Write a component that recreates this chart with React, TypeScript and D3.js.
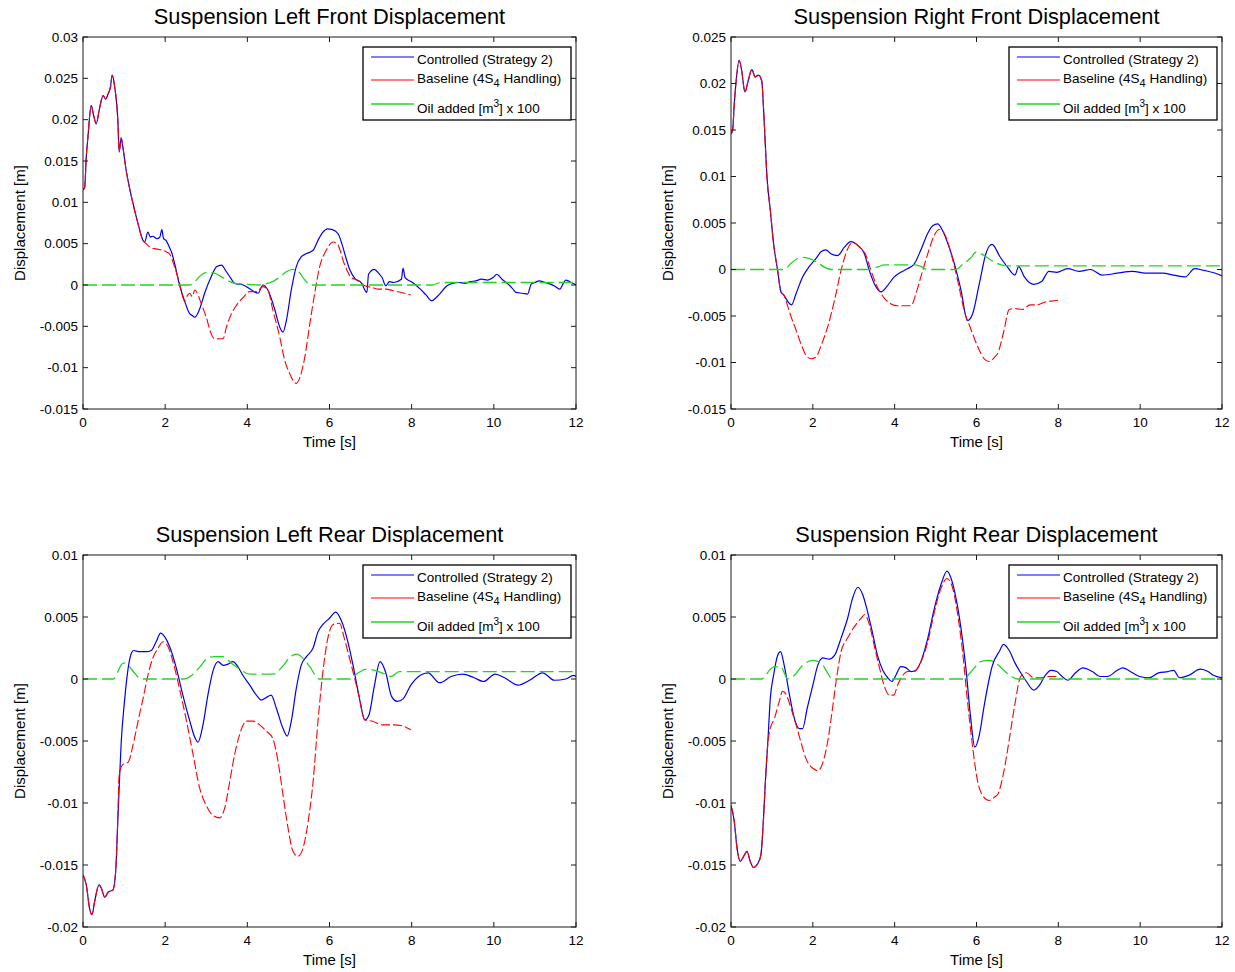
import React from 'react';
import * as d3 from 'd3';

type P = [number, number];

// ---------- tick labels ----------
const timeTicks = [0, 2, 4, 6, 8, 10, 12];
const lfTicks = [0.03, 0.025, 0.02, 0.015, 0.01, 0.005, 0, -0.005, -0.01, -0.015];
const rfTicks = [0.025, 0.02, 0.015, 0.01, 0.005, 0, -0.005, -0.01, -0.015];
const rearTicks = [0.01, 0.005, 0, -0.005, -0.01, -0.015, -0.02];

// ---------- Left Front ----------
const lfShared: P[] = [
  [0, 0.0115], [0.04, 0.0118], [0.08, 0.0155], [0.12, 0.0179], [0.2, 0.0217], [0.26, 0.0205], [0.32, 0.0195],
  [0.4, 0.0213], [0.49, 0.0229], [0.55, 0.0225], [0.61, 0.0231], [0.67, 0.024], [0.71, 0.0254], [0.77, 0.024],
  [0.85, 0.0197], [0.88, 0.0161], [0.93, 0.0178], [0.97, 0.0167], [1.05, 0.0139], [1.13, 0.0118], [1.22, 0.0098],
  [1.34, 0.0074], [1.46, 0.0054],
];
const lfControlled: P[] = [
  ...lfShared,
  [1.5, 0.0052], [1.58, 0.0064], [1.64, 0.0058], [1.7, 0.0059], [1.8, 0.0056], [1.87, 0.0058], [1.92, 0.0067],
  [1.96, 0.0056], [2.02, 0.0054], [2.1, 0.0046], [2.16, 0.0039], [2.23, 0.0026], [2.35, 0], [2.47, -0.0019],
  [2.6, -0.0035], [2.66, -0.0037], [2.72, -0.0039], [2.84, -0.0029], [2.96, -0.001], [3.12, 0.001], [3.25, 0.0022],
  [3.37, 0.0024], [3.49, 0.0016], [3.6, 0.0008], [3.69, 0.0002], [3.9, 0], [4.1, -0.0006], [4.26, -0.001],
  [4.38, 0], [4.5, -0.0006], [4.67, -0.003], [4.79, -0.0051], [4.87, -0.0057], [4.95, -0.0043], [5.07, -0.0006],
  [5.19, 0.0022], [5.31, 0.0034], [5.44, 0.0038], [5.6, 0.0042], [5.72, 0.0054], [5.84, 0.0064], [5.95, 0.0068],
  [6.07, 0.0067], [6.21, 0.0062], [6.3, 0.005], [6.4, 0.0033], [6.49, 0.0019], [6.63, 0.0007], [6.77, 0.0003],
  [6.91, -0.0009], [6.95, 0.0013], [7.09, 0.0019], [7.2, 0.0014], [7.28, 0.0009], [7.37, -0.0001], [7.46, 0.0004],
  [7.56, 0.0003], [7.75, 0.0007], [7.79, 0.002], [7.84, 0.0009], [8.02, 0.0003], [8.21, -0.0005], [8.35, -0.0012],
  [8.49, -0.0019], [8.58, -0.0016], [8.68, -0.0011], [8.86, -0.0001], [9.0, 0.0002], [9.14, 0.0003], [9.3, 0.0002],
  [9.42, 0.0004], [9.56, 0.0005], [9.7, 0.0007], [9.85, 0.0006], [9.98, 0.0009], [10.07, 0.0013], [10.2, 0.0007],
  [10.35, 0.0001], [10.45, -0.0004], [10.54, -0.0009], [10.7, -0.001], [10.82, -0.0011], [10.91, 0.0001],
  [11.0, 0.0003], [11.1, 0.0005], [11.25, 0.0003], [11.38, 0.0001], [11.5, -0.0002], [11.61, -0.0005],
  [11.68, 0.0001], [11.75, 0.0006], [11.85, 0.0004], [12, 0],
];
const lfBaseline: P[] = [
  ...lfShared,
  [1.54, 0.005], [1.65, 0.0045], [1.74, 0.0044], [1.85, 0.0043], [1.95, 0.0042], [2.03, 0.004], [2.1, 0.0038],
  [2.23, 0.0022], [2.35, 0.0002], [2.47, -0.0019], [2.55, -0.0012], [2.6, -0.001], [2.66, -0.0014], [2.72, -0.0006],
  [2.8, -0.0012], [2.88, -0.0023], [3.0, -0.0039], [3.12, -0.0059], [3.2, -0.0065], [3.33, -0.0065], [3.41, -0.0065],
  [3.49, -0.0051], [3.61, -0.0035], [3.73, -0.0025], [3.9, -0.0015], [4.06, -0.0008], [4.22, -0.0008],
  [4.38, -0.0002], [4.5, -0.0006], [4.62, -0.003], [4.79, -0.0063], [4.91, -0.0091], [5.03, -0.0107],
  [5.19, -0.0119], [5.31, -0.0107], [5.4, -0.0087], [5.52, -0.0047], [5.64, -0.001], [5.76, 0.0022],
  [5.92, 0.0042], [6.09, 0.0052], [6.2, 0.0049], [6.35, 0.0027], [6.53, 0.0009], [6.72, 0.0005], [6.86, -0.0001],
  [7.04, -0.0003], [7.19, -0.0005], [7.37, -0.0005], [7.56, -0.0007], [7.75, -0.0009], [7.98, -0.0012],
];
const lfOil: P[] = [
  [0, 0], [2.6, 0], [2.72, 0.0004], [2.85, 0.0011], [3.0, 0.0015], [3.15, 0.0015], [3.3, 0.0012], [3.5, 0.0006],
  [3.7, 0.0002], [3.9, 0.0001], [4.3, 0], [4.5, 0.0002], [4.65, 0.0005], [4.8, 0.001], [4.95, 0.0016],
  [5.1, 0.0019], [5.25, 0.0016], [5.4, 0.0006], [5.55, 0], [8.5, 0], [8.7, 0.0003], [12, 0.0003],
];

// ---------- Right Front ----------
const rfShared: P[] = [
  [0, 0.0146], [0.04, 0.015], [0.08, 0.0178], [0.12, 0.02], [0.2, 0.0225], [0.26, 0.0214], [0.34, 0.0191],
  [0.42, 0.0203], [0.51, 0.0215], [0.59, 0.0207], [0.67, 0.0209], [0.75, 0.0203], [0.81, 0.016], [0.88, 0.0099],
  [0.96, 0.0064], [1.04, 0.0028], [1.14, -0.0001], [1.22, -0.0024], [1.3, -0.0028],
];
const rfControlled: P[] = [
  ...rfShared,
  [1.4, -0.0035], [1.48, -0.0038], [1.59, -0.0026], [1.75, -0.0008], [1.91, 0.0003], [2.08, 0.0012], [2.2, 0.0019],
  [2.32, 0.0021], [2.44, 0.0017], [2.61, 0.0015], [2.77, 0.0024], [2.93, 0.003], [3.1, 0.0026], [3.26, 0.0017],
  [3.38, -0.0001], [3.5, -0.0015], [3.67, -0.0024], [3.83, -0.0017], [3.99, -0.0008], [4.15, -0.0003],
  [4.32, 0.0001], [4.48, 0.0006], [4.64, 0.0021], [4.81, 0.0039], [4.93, 0.0047], [5.05, 0.0049], [5.17, 0.0042],
  [5.3, 0.0028], [5.46, 0.0006], [5.62, -0.0022], [5.78, -0.0055], [5.91, -0.0047], [6.07, -0.0015],
  [6.23, 0.0017], [6.31, 0.0025], [6.38, 0.0027], [6.57, 0.0014], [6.75, 0.0003], [6.94, -0.0006], [7.03, 0.0003],
  [7.17, -0.0008], [7.4, -0.0016], [7.59, -0.0013], [7.77, -0.0002], [7.96, -0.0003], [8.23, 0.0001],
  [8.51, -0.0002], [8.79, 0], [9.07, -0.0006], [9.44, -0.0004], [9.81, -0.0002], [10.18, -0.0004],
  [10.55, -0.0004], [10.82, -0.0006], [11.1, -0.0008], [11.33, 0.0001], [11.56, -0.0001], [11.84, -0.0004],
  [12, -0.0007],
];
const rfBaseline: P[] = [
  ...rfShared,
  [1.34, -0.0033], [1.47, -0.0051], [1.59, -0.0065], [1.71, -0.008], [1.83, -0.0092], [1.96, -0.0096],
  [2.08, -0.0094], [2.2, -0.0082], [2.36, -0.0062], [2.53, -0.0033], [2.69, -0.0001], [2.85, 0.0022],
  [2.97, 0.0029], [3.14, 0.0024], [3.3, 0.0015], [3.42, -0.0001], [3.58, -0.0019], [3.75, -0.0031],
  [3.91, -0.0037], [4.07, -0.0039], [4.24, -0.0039], [4.4, -0.0039], [4.52, -0.0026], [4.64, -0.0008],
  [4.81, 0.0017], [4.97, 0.0037], [5.09, 0.0043], [5.21, 0.0039], [5.38, 0.0017], [5.54, -0.0012],
  [5.7, -0.0044], [5.87, -0.0065], [6.03, -0.0083], [6.19, -0.0096], [6.31, -0.0099], [6.45, -0.0094],
  [6.52, -0.009], [6.66, -0.0068], [6.8, -0.0043], [6.94, -0.0042], [7.12, -0.0043], [7.31, -0.0038],
  [7.49, -0.0038], [7.68, -0.0035], [7.82, -0.0034], [8.0, -0.0033],
];
const rfOil: P[] = [
  [0, 0], [1.3, 0], [1.45, 0.0006], [1.6, 0.0011], [1.75, 0.0013], [1.9, 0.0012], [2.1, 0.0008], [2.3, 0.0002],
  [2.45, 0], [3.4, 0], [3.6, 0.0003], [3.75, 0.0005], [4.5, 0.0005], [4.65, 0.0003], [4.8, 0], [5.5, 0],
  [5.65, 0.0005], [5.85, 0.0012], [6.0, 0.0019], [6.15, 0.0016], [6.4, 0.0009], [6.6, 0.0005], [6.8, 0.0004],
  [12, 0.0004],
];

// ---------- Left Rear ----------
const lrShared: P[] = [
  [0, -0.0158], [0.08, -0.0166], [0.16, -0.0185], [0.22, -0.019], [0.28, -0.018], [0.39, -0.0166],
  [0.45, -0.0169], [0.53, -0.0176], [0.61, -0.0172], [0.73, -0.017], [0.8, -0.0153], [0.84, -0.012],
];
const lrControlled: P[] = [
  ...lrShared,
  [0.88, -0.0088], [0.93, -0.0051], [1.01, -0.0018], [1.1, 0.0009], [1.18, 0.0021], [1.23, 0.0023],
  [1.38, 0.0022], [1.54, 0.0022], [1.66, 0.0023], [1.78, 0.003], [1.89, 0.0037], [1.99, 0.0034], [2.11, 0.0026],
  [2.27, 0.0009], [2.43, -0.0013], [2.6, -0.0034], [2.72, -0.0047], [2.8, -0.0051], [2.92, -0.0037],
  [3.04, -0.0013], [3.16, 0.0006], [3.29, 0.0014], [3.41, 0.0011], [3.53, 0.0012], [3.65, 0.0014], [3.77, 0.001],
  [3.89, 0.0003], [4.06, -0.0005], [4.22, -0.0013], [4.34, -0.0017], [4.46, -0.0015], [4.58, -0.0013],
  [4.71, -0.0024], [4.87, -0.004], [4.97, -0.0046], [5.07, -0.0034], [5.19, -0.0008], [5.31, 0.0011],
  [5.44, 0.0018], [5.6, 0.0025], [5.72, 0.0038], [5.84, 0.0044], [6.0, 0.0049], [6.15, 0.0054], [6.29, 0.0047],
  [6.44, 0.0031], [6.58, 0.001], [6.72, -0.0014], [6.86, -0.0033], [6.96, -0.0029], [7.09, -0.0006],
  [7.23, 0.0014], [7.37, 0.0005], [7.51, -0.0014], [7.65, -0.0018], [7.79, -0.0016], [7.98, -0.0005],
  [8.21, 0.0003], [8.4, 0.0005], [8.68, -0.0003], [8.96, 0.0002], [9.24, 0.0004], [9.52, 0.0001],
  [9.75, -0.0002], [10.03, 0.0004], [10.26, 0.0001], [10.59, -0.0005], [10.87, -0.0001], [11.19, 0.0005],
  [11.47, -0.0001], [11.75, 0], [11.94, 0.0003], [12, 0.0002],
];
const lrBaseline: P[] = [
  ...lrShared,
  [0.88, -0.0078], [0.93, -0.0071], [0.97, -0.0069], [1.1, -0.0067], [1.22, -0.0053], [1.34, -0.0034],
  [1.46, -0.0016], [1.58, 0.0003], [1.7, 0.0017], [1.83, 0.0025], [1.95, 0.003], [2.07, 0.0026], [2.19, 0.0014],
  [2.35, -0.0008], [2.52, -0.0034], [2.68, -0.0061], [2.84, -0.0088], [3.0, -0.0102], [3.16, -0.011],
  [3.33, -0.0112], [3.45, -0.0104], [3.57, -0.0083], [3.69, -0.0061], [3.81, -0.0045], [3.98, -0.0034],
  [4.14, -0.0034], [4.3, -0.0037], [4.46, -0.0042], [4.62, -0.0048], [4.75, -0.0067], [4.87, -0.0094],
  [4.99, -0.012], [5.11, -0.0139], [5.23, -0.0143], [5.35, -0.0137], [5.48, -0.0115], [5.6, -0.0083],
  [5.72, -0.0034], [5.84, 0.0006], [5.96, 0.0033], [6.09, 0.0044], [6.25, 0.0045], [6.35, 0.0034],
  [6.54, 0.001], [6.72, -0.0014], [6.86, -0.0033], [7.05, -0.0034], [7.28, -0.0037], [7.56, -0.0037],
  [7.79, -0.0038], [7.98, -0.0041],
];
const lrOil: P[] = [
  [0, 0], [0.75, 0], [0.85, 0.0006], [0.92, 0.0011], [1.0, 0.0013], [1.1, 0.0011], [1.25, 0.0005], [1.42, 0],
  [2.45, 0], [2.65, 0.0003], [2.85, 0.001], [3.04, 0.0017], [3.2, 0.0018], [3.4, 0.0018], [3.6, 0.0013],
  [3.81, 0.0008], [4.06, 0.0004], [4.65, 0.0004], [4.85, 0.001], [5.05, 0.0018], [5.2, 0.002], [5.35, 0.0017],
  [5.52, 0.001], [5.75, 0], [6.5, 0], [6.7, 0.0005], [6.9, 0.0008], [7.1, 0.0007], [7.35, 0.0004],
  [7.5, 0.0002], [7.7, 0.0006], [12, 0.0006],
];

// ---------- Right Rear ----------
const rrShared: P[] = [
  [0, -0.0102], [0.08, -0.0115], [0.15, -0.0137], [0.23, -0.0147], [0.31, -0.0143], [0.39, -0.0139],
  [0.47, -0.0147], [0.55, -0.0152], [0.65, -0.0149], [0.73, -0.0142], [0.79, -0.0115], [0.84, -0.0083],
];
const rrControlled: P[] = [
  ...rrShared,
  [0.9, -0.0051], [0.96, -0.0016], [1.04, 0.0003], [1.14, 0.0019], [1.21, 0.0022], [1.3, 0.0011],
  [1.43, -0.0013], [1.55, -0.0032], [1.67, -0.004], [1.75, -0.004], [1.86, -0.0024], [2.0, -0.0005],
  [2.12, 0.0011], [2.24, 0.0017], [2.4, 0.0016], [2.53, 0.0019], [2.69, 0.0033], [2.85, 0.0049], [2.97, 0.0065],
  [3.1, 0.0074], [3.22, 0.0068], [3.34, 0.0054], [3.46, 0.0037], [3.58, 0.0019], [3.71, 0.0007], [3.83, 0.0001],
  [3.93, -0.0002], [4.03, 0.0003], [4.15, 0.001], [4.28, 0.0009], [4.4, 0.0006], [4.52, 0.0007], [4.64, 0.0014],
  [4.81, 0.0033], [4.97, 0.0057], [5.13, 0.0076], [5.28, 0.0087], [5.38, 0.0081], [5.5, 0.0065], [5.62, 0.0041],
  [5.74, 0.0009], [5.85, -0.0029], [5.96, -0.0055], [6.07, -0.0045], [6.19, -0.0021], [6.31, 0], [6.38, 0.001],
  [6.57, 0.0023], [6.66, 0.0028], [6.8, 0.0023], [6.94, 0.0013], [7.08, 0.0005], [7.22, -0.0002], [7.4, -0.0009],
  [7.54, -0.0005], [7.68, 0.0003], [7.82, 0.0007], [7.96, 0.0006], [8.09, 0.0002], [8.23, -0.0001],
  [8.42, 0.0005], [8.6, 0.0009], [8.83, 0.0006], [9.02, 0.0002], [9.2, 0.0002], [9.44, 0.0007], [9.57, 0.0009],
  [9.81, 0.0005], [9.99, 0.0002], [10.22, 0.0001], [10.45, 0.0005], [10.68, 0.0006], [10.82, 0.0007],
  [10.96, 0.0001], [11.19, 0.0003], [11.47, 0.0008], [11.66, 0.0006], [11.79, 0.0003], [12, 0.0001],
];
const rrBaseline: P[] = [
  ...rrShared,
  [0.9, -0.0052], [0.96, -0.004], [1.06, -0.0032], [1.18, -0.0018], [1.26, -0.001], [1.34, -0.0012],
  [1.47, -0.0024], [1.59, -0.0037], [1.71, -0.0051], [1.83, -0.0064], [2.0, -0.0072], [2.12, -0.0074],
  [2.24, -0.0068], [2.36, -0.0051], [2.48, -0.0024], [2.59, 0.0003], [2.69, 0.0022], [2.85, 0.0033],
  [3.01, 0.0042], [3.18, 0.0049], [3.27, 0.0052], [3.38, 0.0044], [3.5, 0.0027], [3.63, 0.0009],
  [3.75, -0.0006], [3.87, -0.0013], [3.98, -0.0013], [4.07, -0.0005], [4.2, 0.0003], [4.32, 0.0006],
  [4.48, 0.0006], [4.6, 0.0011], [4.81, 0.003], [4.97, 0.0054], [5.13, 0.0073], [5.28, 0.0081], [5.42, 0.0073],
  [5.54, 0.0052], [5.66, 0.0022], [5.78, -0.0018], [5.91, -0.0056], [6.03, -0.0083], [6.15, -0.0094],
  [6.31, -0.0098], [6.45, -0.0095], [6.52, -0.0093], [6.66, -0.0076], [6.8, -0.0049], [6.94, -0.002],
  [7.08, 0.0002], [7.22, 0.0005], [7.4, 0.0001], [7.59, 0.0001], [7.77, 0.0002], [8.0, 0.0002],
];
const rrOil: P[] = [
  [0, 0], [0.75, 0], [0.85, 0.0003], [0.94, 0.0007], [1.06, 0.001], [1.22, 0.001], [1.3, 0.0005], [1.38, 0],
  [1.45, 0.0001], [1.55, 0.0003], [1.75, 0.0011], [2.0, 0.0015], [2.2, 0.0013], [2.36, 0.0005], [2.48, 0],
  [5.7, 0], [5.82, 0.0004], [5.95, 0.0009], [6.1, 0.0014], [6.3, 0.0015], [6.5, 0.0012], [6.7, 0.0006],
  [6.85, 0.0002], [7.0, 0], [12, 0],
];

const FONT = "'Liberation Sans', Arial, Helvetica, sans-serif";
const BLUE = '#0000f0';
const RED = '#ff0000';
const GREEN = '#22d422';

type PanelProps = {
  id: string;
  title: string;
  left: number;
  top: number;
  width: number;
  height: number;
  yTicks: number[];
  controlled: P[];
  baseline: P[];
  oil: P[];
};

const fmt = (v: number) => String(+v.toFixed(4));

function Panel({ id, title, left, top, width, height, yTicks, controlled, baseline, oil }: PanelProps) {
  const x = d3.scaleLinear().domain([0, 12]).range([left, left + width]);
  const y = d3.scaleLinear().domain([d3.min(yTicks)!, d3.max(yTicks)!]).range([top + height, top]);
  const line = d3
    .line<P>()
    .x((d) => x(d[0]))
    .y((d) => y(d[1]))
    .curve(d3.curveMonotoneX);
  const right = left + width;
  const bottom = top + height;
  const tl = 5;
  const frame = '#1a1a1a';

  // legend
  const bw = 208;
  const bh = 73;
  const bx = right - 5 - bw;
  const by = top + 10;
  const lx1 = bx + 8;
  const lx2 = bx + 51;
  const tx = bx + 54;
  const fs = 13.5;

  return (
    <g>
      <defs>
        <clipPath id={`clip-${id}`}>
          <rect x={left} y={top} width={width} height={height} />
        </clipPath>
      </defs>
      <rect x={left} y={top} width={width} height={height} fill="#fff" />
      <g clipPath={`url(#clip-${id})`}>
        <path d={line(controlled)!} fill="none" stroke={BLUE} strokeWidth={1.2} />
        <path d={line(baseline)!} fill="none" stroke={RED} strokeWidth={1.1} strokeDasharray="9,3" />
        <path d={line(oil)!} fill="none" stroke={GREEN} strokeWidth={1.3} strokeDasharray="14,5" />
      </g>
      {/* frame */}
      <rect x={left} y={top} width={width} height={height} fill="none" stroke={frame} strokeWidth={1} />
      {/* x ticks */}
      {timeTicks.map((t) => (
        <g key={`xt${t}`}>
          <line x1={x(t)} x2={x(t)} y1={bottom} y2={bottom - tl} stroke={frame} />
          <line x1={x(t)} x2={x(t)} y1={top} y2={top + tl} stroke={frame} />
          <text x={x(t)} y={bottom + 18} textAnchor="middle" fontSize={fs} fontFamily={FONT} fill="#000">
            {t}
          </text>
        </g>
      ))}
      {/* y ticks */}
      {yTicks.map((v) => (
        <g key={`yt${v}`}>
          <line x1={left} x2={left + tl} y1={y(v)} y2={y(v)} stroke={frame} />
          <line x1={right} x2={right - tl} y1={y(v)} y2={y(v)} stroke={frame} />
          <text x={left - 5} y={y(v)} dy="0.35em" textAnchor="end" fontSize={fs} fontFamily={FONT} fill="#000">
            {fmt(v)}
          </text>
        </g>
      ))}
      {/* title */}
      <text x={(left + right) / 2} y={top - 13} textAnchor="middle" fontSize={21.8} fontFamily={FONT} fill="#000">
        {title}
      </text>
      {/* axis labels */}
      <text x={(left + right) / 2} y={bottom + 38} textAnchor="middle" fontSize={15} fontFamily={FONT} fill="#000">
        Time [s]
      </text>
      <text
        transform={`translate(${left - 58},${(top + bottom) / 2}) rotate(-90)`}
        textAnchor="middle"
        fontSize={15}
        fontFamily={FONT}
        fill="#000"
      >
        Displacement [m]
      </text>
      {/* legend */}
      <rect x={bx} y={by} width={bw} height={bh} fill="#fff" stroke="#000" strokeWidth={1.3} />
      <line x1={lx1} x2={lx2} y1={by + 10} y2={by + 10} stroke={BLUE} strokeWidth={1.2} />
      <text x={tx} y={by + 17} fontSize={fs} fontFamily={FONT} fill="#000">
        Controlled (Strategy 2)
      </text>
      <line x1={lx1} x2={lx2} y1={by + 33} y2={by + 33} stroke={RED} strokeWidth={1.1} />
      <text x={tx} y={by + 36} fontSize={fs} fontFamily={FONT} fill="#000">
        Baseline (4S
        <tspan dy={4} fontSize={11}>
          4
        </tspan>
        <tspan dy={-4}> Handling)</tspan>
      </text>
      <line x1={lx1} x2={lx2} y1={by + 57} y2={by + 57} stroke={GREEN} strokeWidth={1.3} />
      <text x={tx} y={by + 66} fontSize={fs} fontFamily={FONT} fill="#000">
        Oil added [m
        <tspan dy={-6} fontSize={10}>
          3
        </tspan>
        <tspan dy={6}>] x 100</tspan>
      </text>
    </g>
  );
}

export default function App() {
  return (
    <svg
      width={1235}
      height={972}
      style={{ position: 'absolute', left: 0, top: 0, background: '#fff' }}
    >
      <rect x={0} y={0} width={1235} height={972} fill="#fff" />
      <Panel id="lf" title="Suspension Left Front Displacement" left={83} top={37} width={493} height={372}
        yTicks={lfTicks} controlled={lfControlled} baseline={lfBaseline} oil={lfOil} />
      <Panel id="rf" title="Suspension Right Front Displacement" left={731} top={37} width={491} height={372}
        yTicks={rfTicks} controlled={rfControlled} baseline={rfBaseline} oil={rfOil} />
      <Panel id="lr" title="Suspension Left Rear Displacement" left={83} top={555} width={493} height={372}
        yTicks={rearTicks} controlled={lrControlled} baseline={lrBaseline} oil={lrOil} />
      <Panel id="rr" title="Suspension Right Rear Displacement" left={731} top={555} width={491} height={372}
        yTicks={rearTicks} controlled={rrControlled} baseline={rrBaseline} oil={rrOil} />
    </svg>
  );
}
